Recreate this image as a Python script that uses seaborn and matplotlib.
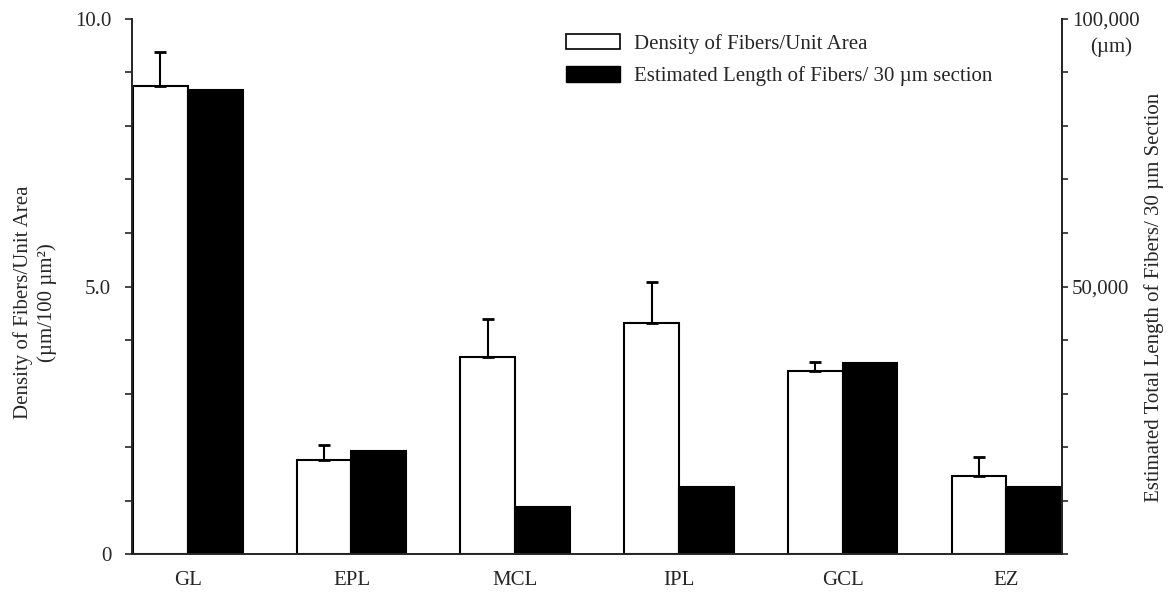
import numpy as np
import pandas as pd
import matplotlib
matplotlib.use("Agg")
import matplotlib.pyplot as plt
from matplotlib.patches import Patch
import seaborn as sns

# --------------------------
# Data
# --------------------------
layers = ["GL", "EPL", "MCL", "IPL", "GCL", "EZ"]
density = [8.74, 1.76, 3.68, 4.32, 3.42, 1.46]          # um / 100 um^2
density_err = [0.65, 0.27, 0.72, 0.76, 0.17, 0.36]      # upper error only
fiber_length = [86800, 19300, 8800, 12500, 35800, 12500]  # um per 30 um section

series = ["Density of Fibers/Unit Area", "Estimated Length of Fibers/ 30 µm section"]

# left axis runs 0-10, right axis 0-100,000 -> both series share one bar scale
left_max, right_max = 10, 100000
ratio = right_max / left_max

df = pd.concat([
    pd.DataFrame({"layer": layers, "value": density, "series": series[0]}),
    pd.DataFrame({"layer": layers, "value": np.array(fiber_length) / ratio, "series": series[1]}),
], ignore_index=True)

# --------------------------
# Style
# --------------------------
sns.set_style("ticks")
plt.rcParams["font.family"] = ["Liberation Serif", "DejaVu Serif"]
plt.rcParams["axes.linewidth"] = 1.4

palette = {series[0]: "white", series[1]: "black"}

fig, ax = plt.subplots(figsize=(11.69, 5.92), dpi=100)
fig.subplots_adjust(left=0.113, right=0.9085, top=0.968, bottom=0.064)

sns.barplot(data=df, x="layer", y="value", hue="series", hue_order=series,
            order=layers, palette=palette, width=0.67, edgecolor="black",
            linewidth=1.5, ax=ax, legend=False)

# error bars on the density (white) bars, upward only
white_bars = sorted([p for p in ax.patches if p.get_facecolor()[0] > 0.5],
                    key=lambda p: p.get_x())
xs = [p.get_x() + p.get_width() / 2 for p in white_bars]
ax.errorbar(xs, density, yerr=[np.zeros(len(density)), density_err], fmt="none",
            ecolor="black", elinewidth=1.5, capsize=4, capthick=2)

# --------------------------
# Axes
# --------------------------
ax2 = ax.twinx()
ax.set_xlim(-0.34, 5.34)
ax.set_ylim(0, left_max)
ax2.set_ylim(0, right_max)

ax.set_yticks([0, 5, 10], ["0", "5.0", "10.0"])
ax.set_yticks(np.arange(0, 11, 1), minor=True)
ax2.set_yticks([50000, 100000], ["50,000", "100,000"])
ax2.set_yticks(np.arange(0, 100001, 10000), minor=True)

ax.tick_params(axis="y", which="both", direction="out", length=5, width=1.2,
               pad=10, labelsize=15)
ax2.tick_params(axis="y", which="both", direction="out", length=4, width=1.2,
                pad=3, labelsize=15)
ax.tick_params(axis="x", length=0, pad=12, labelsize=15)

for a in (ax, ax2):
    a.spines["top"].set_visible(False)
ax2.spines["left"].set_visible(False)
ax2.spines["bottom"].set_visible(False)

ax.set_xlabel("")
ax.set_ylabel("Density of Fibers/Unit Area\n(µm/100 µm²)", fontsize=15, linespacing=1.3)
ax.yaxis.set_label_coords(-0.081, 0.47)
ax2.set_ylabel("Estimated Total Length of Fibers/ 30 µm Section", fontsize=15)
ax2.yaxis.set_label_coords(1.088, 0.48)
ax2.text(1.053, 0.948, "(µm)", transform=ax2.transAxes, ha="center", va="center",
         fontsize=15)

handles = [Patch(facecolor="white", edgecolor="black", linewidth=1.2),
           Patch(facecolor="black", edgecolor="black")]
ax2.legend(handles, series, loc="upper left", bbox_to_anchor=(0.467, 0.972),
           frameon=False, fontsize=15, handlelength=2.55, handleheight=0.75,
           handletextpad=0.7, labelspacing=0.6, borderpad=0, borderaxespad=0)

fig.savefig("out.png", dpi=100)
